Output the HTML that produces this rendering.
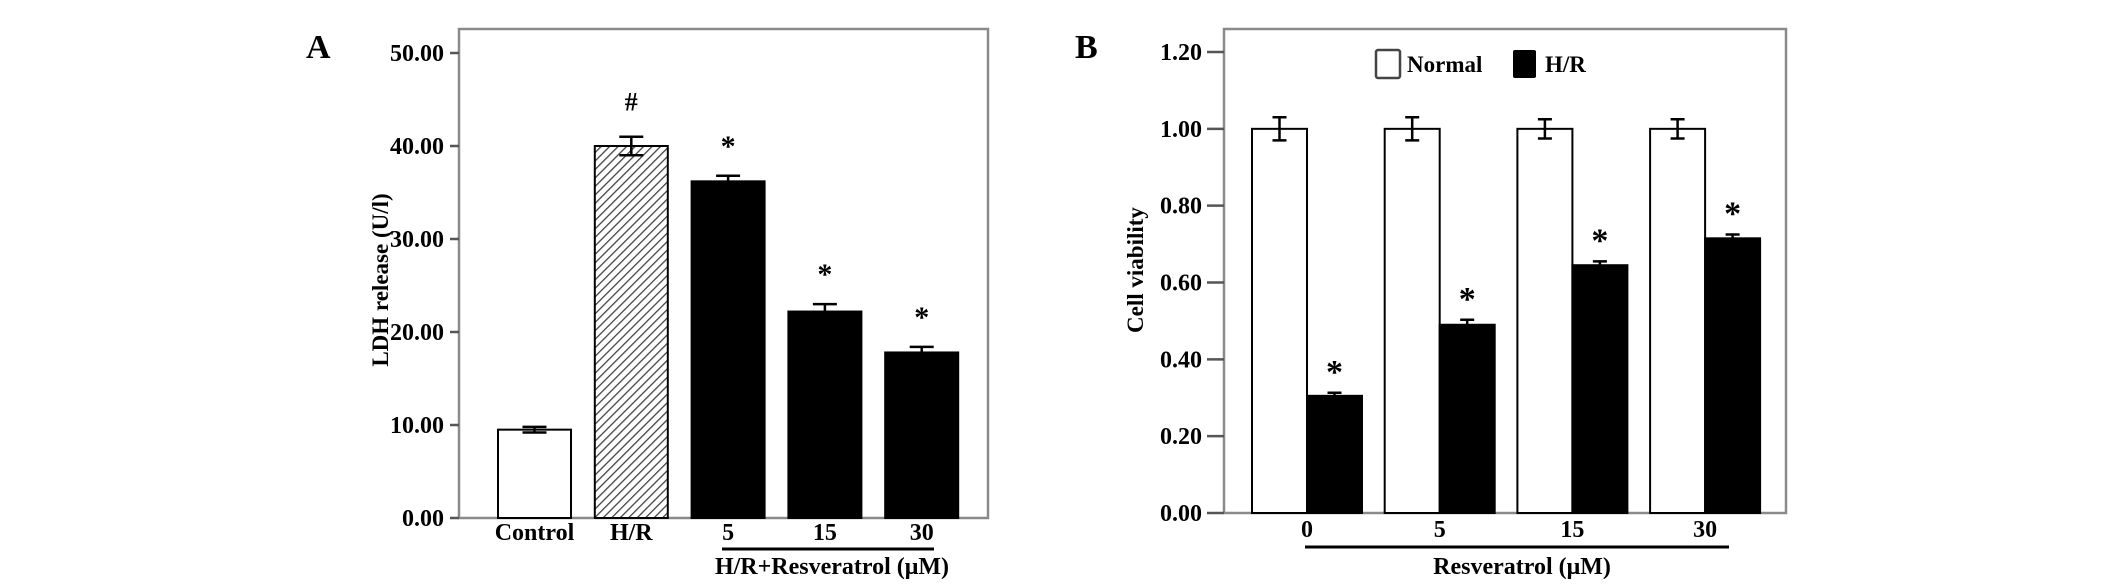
<!DOCTYPE html>
<html><head><meta charset="utf-8"><style>
html,body{margin:0;padding:0;background:#fff;}
svg{display:block;}
text{font-family:"Liberation Serif",serif;font-weight:bold;fill:#000;}
</style></head><body>
<svg id="fig" width="2126" height="587" viewBox="0 0 2126 587" xmlns="http://www.w3.org/2000/svg">
<defs>
<pattern id="hatch" patternUnits="userSpaceOnUse" width="6" height="6" patternTransform="rotate(45)">
<rect width="6" height="6" fill="#fff"/><line x1="0" y1="0" x2="0" y2="6" stroke="#444" stroke-width="2.6"/>
</pattern>
</defs>
<g id="panelA"></g>
<g id="panelB"></g>
</svg>
<script>
// Panel A data
const aCategories = ["Control","H/R","5","15","30"];
const aValues = [9.5, 40.0, 36.2, 22.2, 17.8];
const aErrors = [0.3, 1.0, 0.6, 0.8, 0.6];
const aMarks = ["", "#", "*", "*", "*"];
const aTicks = [0,10,20,30,40,50];
const aTickLabels = ["0.00","10.00","20.00","30.00","40.00","50.00"];
// Panel B data
const bCategories = ["0","5","15","30"];
const bNormal = [1.0, 1.0, 1.0, 1.0];
const bNormalErr = [0.03, 0.03, 0.025, 0.025];
const bHR = [0.305, 0.49, 0.645, 0.715];
const bHRErr = [0.008, 0.013, 0.01, 0.01];
const bTicks = [0,0.2,0.4,0.6,0.8,1.0,1.2];
const bTickLabels = ["0.00","0.20","0.40","0.60","0.80","1.00","1.20"];

const NS="http://www.w3.org/2000/svg";
function mk(parent,tag,attrs,txt){const e=document.createElementNS(NS,tag);for(const k in attrs)e.setAttribute(k,attrs[k]);if(txt!==undefined)e.textContent=txt;parent.appendChild(e);return e;}

// ---------- Panel A ----------
(function(){
const g=document.getElementById('panelA');
const L=459,T=29,R=988,B=518;
const y=v=>B-v*(B-53)/50;
const xLeft=i=>498+i*96.8, bw=73;
let e=mk(g,'text',{x:306,y:58,'font-size':34});
e.textContent='A';


e=mk(g,'rect',{x:L,y:T,width:R-L,height:B-T,fill:'none',stroke:'#8a8a8a','stroke-width':2.5});


aTicks.forEach((t,i)=>{
  const yy=y(t);
  const tk=mk(g,'line',{x1:450,x2:L,y1:yy,y2:yy,stroke:'#555','stroke-width':2.5});
  
  
  const tl=mk(g,'text',{x:444,y:yy+8,'font-size':24,'text-anchor':'end'},aTickLabels[i]);
  
  
});
e=mk(g,'text',{x:0,y:0,'font-size':23,'text-anchor':'middle',transform:'translate(388,280) rotate(-90)'},'LDH release (U/l)');


aValues.forEach((v,i)=>{
  const x0=xLeft(i),cx=x0+bw/2,top=y(v);
  const fill=i===0?'#fff':(i===1?'url(#hatch)':'#000');
  const r=mk(g,'rect',{x:x0,y:top,width:bw,height:B-top,fill:fill,stroke:'#000','stroke-width':2});
  
  
  const eu=y(v+aErrors[i]),ed=y(v-aErrors[i]);
  const eb=mk(g,'path',{d:`M${cx},${eu}V${ed}M${cx-12},${eu}H${cx+12}M${cx-12},${ed}H${cx+12}`,stroke:'#000','stroke-width':2.5,fill:'none'});
  
  
  if(aMarks[i]){
    const m=mk(g,'text',{x:cx,y:y(v+aErrors[i])-(aMarks[i]==='#'?26:20),'font-size':aMarks[i]==='#'?26:30,'text-anchor':'middle'},aMarks[i]);
    
    
  }
  const lb=mk(g,'text',{x:cx,y:540,'font-size':24,'text-anchor':'middle'},aCategories[i]);
  
  
});
e=mk(g,'line',{x1:722,x2:934,y1:549,y2:549,stroke:'#000','stroke-width':3});


e=mk(g,'text',{x:832,y:574,'font-size':24,'text-anchor':'middle'},'H/R+Resveratrol (μM)');


})();

// ---------- Panel B ----------
(function(){
const g=document.getElementById('panelB');
const L=1224,T=29,R=1786,B=513;
const y=v=>B-v*(B-52)/1.2;
const gx=i=>1252+i*132.7, bw=55;
let e=mk(g,'text',{x:1075,y:58,'font-size':34});
e.textContent='B';


e=mk(g,'rect',{x:L,y:T,width:R-L,height:B-T,fill:'none',stroke:'#8a8a8a','stroke-width':2.5});


bTicks.forEach((t,i)=>{
  const yy=y(t);
  const tk=mk(g,'line',{x1:1207,x2:L,y1:yy,y2:yy,stroke:'#555','stroke-width':2.5});
  
  
  const tl=mk(g,'text',{x:1202,y:yy+8,'font-size':24,'text-anchor':'end'},bTickLabels[i]);
  
  
});
e=mk(g,'text',{x:0,y:0,'font-size':23,'text-anchor':'middle',transform:'translate(1143,270) rotate(-90)'},'Cell viability');


bCategories.forEach((c,i)=>{
  const x0=gx(i);
  const vals=[bNormal[i],bHR[i]],errs=[bNormalErr[i],bHRErr[i]];
  vals.forEach((v,j)=>{
    const xx=x0+j*bw,cx=xx+bw/2,top=y(v);
    const r=mk(g,'rect',{x:xx,y:top,width:bw,height:B-top,fill:j?'#000':'#fff',stroke:'#000','stroke-width':2});
    
    
    const eu=y(v+errs[j]),ed=y(v-errs[j]);
    const d=j?`M${cx},${eu}V${top}M${cx-7},${eu}H${cx+7}`:`M${cx},${eu}V${ed}M${cx-7},${eu}H${cx+7}M${cx-7},${ed}H${cx+7}`;
    const eb=mk(g,'path',{d:d,stroke:'#000','stroke-width':2.5,fill:'none'});
    
    
    if(j){
      const m=mk(g,'text',{x:cx,y:y(v+errs[j])-10,'font-size':34,'text-anchor':'middle'},'*');
      
      
    }
  });
  const lb=mk(g,'text',{x:x0+bw,y:537,'font-size':24,'text-anchor':'middle'},c);
  
  
});
e=mk(g,'line',{x1:1305,x2:1729,y1:547,y2:547,stroke:'#000','stroke-width':3});


e=mk(g,'text',{x:1522,y:574,'font-size':24,'text-anchor':'middle'},'Resveratrol (μM)');


// legend
e=mk(g,'rect',{x:1376,y:50,width:24,height:28,fill:'#fff',stroke:'#444','stroke-width':2.5,rx:2});


e=mk(g,'text',{x:1407,y:72,'font-size':23},'Normal');


e=mk(g,'rect',{x:1513,y:50,width:23,height:28,fill:'#000',rx:2});


e=mk(g,'text',{x:1545,y:72,'font-size':23},'H/R');


})();
</script>
</body></html>
